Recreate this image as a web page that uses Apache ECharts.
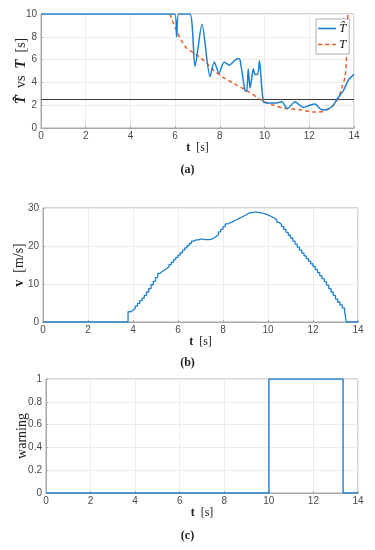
<!DOCTYPE html>
<html>
<head>
<meta charset="utf-8">
<script src="https://cdn.jsdelivr.net/npm/echarts@6/dist/echarts.min.js"></script>
<style>html,body{margin:0;padding:0;background:#fff}#c{width:375px;height:550px}</style>
</head>
<body>
<div id="c"></div>
<script>
// ---- data ----
const xTicks = [0, 2, 4, 6, 8, 10, 12, 14];
const thresholdT = 2.5;
// (a) estimated T-hat [t, value]
const tHat = [[0,10],[5.98,10],[6.07,8.0],[6.17,10],[6.66,10],[6.89,5.4],[7.2,9.1],[7.56,4.5],[7.75,5.8],[7.96,4.8],[8.19,5.8],[8.43,5.5],[8.55,5.7],[8.8,6.1],[8.9,6.0],[9.12,3.3],[9.2,3.2],[9.27,5.2],[9.35,3.5],[9.5,5.2],[9.57,4.7],[9.69,4.7],[9.77,5.9],[9.95,2.3],[10.2,2.2],[10.54,2.2],[10.77,2.3],[11.02,1.7],[11.36,2.3],[11.73,1.8],[12.03,2.0],[12.25,2.1],[12.56,1.6],[12.71,1.6],[13.08,2.0],[13.23,2.5],[13.53,3.3],[13.75,4.2],[14,4.7]];
// (a) true T [t, value]
const tTrue = [[5.77,10],[5.92,9.2],[6.07,8.5],[6.3,7.6],[6.52,7.0],[6.82,6.6],[7.11,6.2],[7.41,5.7],[7.7,5.1],[8.1,4.5],[8.6,3.95],[9.0,3.5],[9.35,3.1],[9.94,2.35],[10.4,2.0],[10.83,1.75],[11.58,1.6],[12.25,1.4],[12.7,1.5],[13.07,2.0],[13.3,2.6],[13.45,3.5],[13.6,4.5],[13.67,6.5],[13.72,10]];
// (b) speed, step-held values
const vTimes = [0,3.78,3.9,4.0,4.1,4.2,4.3,4.4,4.5,4.6,4.7,4.8,4.9,5.0,5.1,5.2,5.3,5.4,5.5,5.6,5.7,5.8,5.9,6.0,6.1,6.2,6.3,6.4,6.5,6.6,6.7,6.8,6.9,7.0,7.1,7.2,7.3,7.4,7.5,7.6,7.7,7.8,7.9,8.0,8.1,8.2,8.3,8.4,8.5,8.6,8.7,8.8,8.9,9.0,9.1,9.2,9.3,9.4,9.5,9.6,9.7,9.8,9.9,10.0,10.1,10.2,10.3,10.4,10.5,10.6,10.7,10.8,10.9,11.0,11.1,11.2,11.3,11.4,11.5,11.6,11.7,11.8,11.9,12.0,12.1,12.2,12.3,12.4,12.5,12.6,12.7,12.8,12.9,13.0,13.1,13.2,13.3,13.4,13.48,14];
const vValues = [0,2.7,3.1,3.6,4.2,4.9,5.6,6.3,7.0,7.9,8.8,9.8,10.7,11.7,12.8,13.3,13.7,14.1,14.5,15.1,15.7,16.4,17.0,17.6,18.2,18.9,19.5,20.1,20.7,21.3,21.6,21.6,21.8,21.8,21.7,21.7,21.7,21.8,22.1,22.5,23.0,23.7,24.4,25.1,25.8,26.1,26.3,26.6,26.9,27.2,27.5,27.8,28.1,28.5,28.7,28.8,28.9,28.9,28.8,28.7,28.6,28.4,28.2,27.9,27.6,27.3,26.8,26.2,25.7,25.1,24.4,23.6,22.9,22.1,21.3,20.5,19.7,18.9,18.1,17.4,16.7,16.0,15.3,14.6,13.8,13.0,12.2,11.4,10.6,9.7,8.8,7.9,7.0,6.0,5.2,4.5,3.7,3.0,0,0];
// (c) warning
const wTimes = [0, 10.0, 13.33, 14];
const wValues = [0, 1, 0, 0];

const BLUE = '#1f80cf', ORANGE = '#e8622f';
const tickFont = {color:'#4a4a4a', fontSize:10, fontFamily:'Liberation Sans'};
const serif = 'Liberation Serif';

function xAx(gi, gap){
  return {type:'value', gridIndex:gi, min:0, max:14, interval:2,
    axisLine:{show:true, lineStyle:{color:'#a8a8a8'}},
    axisTick:{show:true, inside:true, length:2, lineStyle:{color:'#a8a8a8'}},
    axisLabel:Object.assign({margin:3}, tickFont),
    splitLine:{show:true, lineStyle:{color:'#ececec'}},
    name:'{b|t}  [s]', nameLocation:'middle', nameGap:gap,
    nameTextStyle:{fontFamily:serif, fontSize:12, color:'#222', rich:{b:{fontFamily:serif, fontSize:12, fontWeight:'bold', color:'#222'}}}
  };
}
function yAx(gi, min, max, interval, name, gap, rich, fmt){
  return {type:'value', gridIndex:gi, min:min, max:max, interval:interval,
    axisLine:{show:true, lineStyle:{color:'#a8a8a8'}},
    axisTick:{show:true, inside:true, length:2, lineStyle:{color:'#a8a8a8'}},
    axisLabel:Object.assign({margin:4, formatter:fmt}, tickFont),
    splitLine:{show:true, lineStyle:{color:'#ececec'}},
    name:name, nameLocation:'middle', nameGap:gap, nameRotate:90, nameMoveOverlap:false,
    nameTextStyle:{fontFamily:serif, fontSize:14, color:'#222', rich:rich}
  };
}
const xy = (ts, vs) => ts.map((t,i)=>[t, vs[i]]);

const chart = echarts.init(document.getElementById('c'), null, {renderer:'canvas'});
const gridBase = {show:true, borderColor:'#a8a8a8', borderWidth:1, containLabel:false, outerBoundsMode:'none'};
chart.setOption({
  animation:false,
  backgroundColor:'#fff',
  grid:[
    Object.assign({left:41, right:21, top:14, height:114}, gridBase),
    Object.assign({left:43, right:17, top:208, height:114}, gridBase),
    Object.assign({left:46, right:17, top:379, height:114}, gridBase)
  ],
  xAxis:[xAx(0,14), xAx(1,13), xAx(2,14)],
  yAxis:[
    yAx(0,0,10,2,'{bi|T\u0302}  vs  {bi|T}  [s]',12,{bi:{fontFamily:serif,fontSize:15,fontWeight:'bold',fontStyle:'italic',color:'#222'}}),
    yAx(1,0,30,10,'{b|v}  [m/s]',17,{b:{fontFamily:serif,fontSize:14,fontWeight:'bold',color:'#222'}}),
    yAx(2,0,1,0.2,'warning',17,{}, v=>String(Math.round(v*10)/10))
  ],
  legend:{
    data:[
      {name:'T\u0302', icon:'path://M0,4H18V5.6H0Z', itemStyle:{color:BLUE}},
      {name:'T', icon:'path://M0,4H4.5V5.6H0Z M7,4H11.5V5.6H7Z M14,4H18V5.6H14Z', itemStyle:{color:ORANGE}}
    ],
    orient:'vertical', left:316, top:19,
    itemWidth:18, itemHeight:10, itemGap:3, padding:[3,3,3,2],
    borderColor:'#999', borderWidth:0.8, backgroundColor:'#fff',
    textStyle:{fontFamily:serif, fontStyle:'italic', fontSize:13, color:'#222', padding:[0,0,0,-2]},
    z:10
  },
  series:[
    {name:'thr', type:'line', xAxisIndex:0, yAxisIndex:0, data:[[0,thresholdT],[14,thresholdT]], symbol:'none', lineStyle:{color:'#3a3a3a', width:1.1}, z:1},
    {name:'T\u0302', type:'line', xAxisIndex:0, yAxisIndex:0, data:tHat, symbol:'none', smooth:0.25, lineStyle:{color:BLUE, width:1.5}, itemStyle:{color:BLUE}, z:3},
    {name:'T', type:'line', xAxisIndex:0, yAxisIndex:0, data:tTrue, symbol:'none', smooth:0.3, lineStyle:{color:ORANGE, width:1.5, type:[4,3]}, itemStyle:{color:ORANGE}, z:2},
    {name:'v', type:'line', xAxisIndex:1, yAxisIndex:1, data:xy(vTimes, vValues), symbol:'none', step:'end', lineStyle:{color:BLUE, width:1.3}},
    {name:'w', type:'line', xAxisIndex:2, yAxisIndex:2, data:xy(wTimes, wValues), symbol:'none', step:'end', lineStyle:{color:BLUE, width:1.4}}
  ],
  graphic:[
    {type:'text', left:'center', top:164, style:{text:'(a)', font:'bold 12px "Liberation Serif"', fill:'#222'}},
    {type:'text', left:'center', top:357, style:{text:'(b)', font:'bold 12px "Liberation Serif"', fill:'#222'}},
    {type:'text', left:'center', top:530, style:{text:'(c)', font:'bold 12px "Liberation Serif"', fill:'#222'}}
  ]
});
</script>
</body>
</html>
